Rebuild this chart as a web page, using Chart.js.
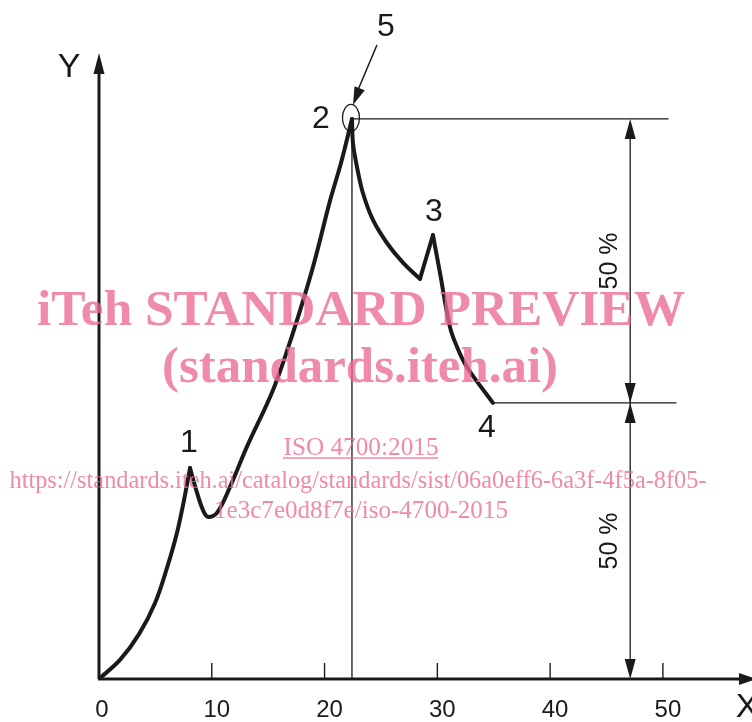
<!DOCTYPE html>
<html>
<head>
<meta charset="utf-8">
<script src="https://cdn.jsdelivr.net/npm/chart.js@4.4.1/dist/chart.umd.min.js"></script>
<style>
  html, body { margin: 0; padding: 0; background: #fff; }
</style>
</head>
<body>
<canvas id="chart" width="752" height="722"></canvas>
<script>
// ===========================
// Data
// ===========================
const curveX = [0, 1.86, 3.55, 4.96, 6.03, 6.91, 7.54, 8.07, 8.69, 9.22, 9.66, 10.46, 11.61, 13.12, 15.43, 17.2,
                18.97, 20.48, 21.45, 22.43, 22.52, 22.87, 23.4, 24.29, 25.53, 26.95, 28.46, 29.61, 30.23, 31.12,
                31.74, 32.62, 34.93];
const curveY = [0, 3.4, 8.0, 13.5, 19.8, 26.0, 31.9, 37.6, 33.2, 30.1, 28.9, 29.6, 34.2, 41.4, 51.5, 61.7,
                73.4, 85.2, 91.9, 99.8, 95.5, 91.3, 86.6, 81.8, 77.7, 74.2, 71.3, 79.1, 72.4, 62.7,
                59.2, 55.6, 49.2];
// sharp corners in the curve (segments are smoothed between them)
const cuspIndex = [0, 7, 19, 26, 27, 32];
// numbered points on the curve
const markLabels = ['1', '2', '3', '4'];
const markIndex = [7, 19, 27, 32];
const xTicks = [0, 10, 20, 30, 40, 50];
const refLineEndX = [50.5, 51.2];   // right ends of the two level lines
const dimensionX = 47.1;            // x of the 50 % dimension line
const dimensionText = ['50 %', '50 %'];
const watermark = ['iTeh STANDARD PREVIEW', '(standards.iteh.ai)', 'ISO 4700:2015',
  'https://standards.iteh.ai/catalog/standards/sist/06a0eff6-6a3f-4f5a-8f05-',
  '1e3c7e0d8f7e/iso-4700-2015'];

// ===========================
// Helpers
// ===========================
function arrowHead(ctx, x, y, angle, len, w) {
  ctx.save();
  ctx.translate(x, y);
  ctx.rotate(angle);
  ctx.beginPath();
  ctx.moveTo(0, 0);
  ctx.lineTo(-len, -w / 2);
  ctx.lineTo(-len, w / 2);
  ctx.closePath();
  ctx.fill();
  ctx.restore();
}

function line(ctx, x1, y1, x2, y2, w) {
  ctx.lineWidth = w;
  ctx.beginPath();
  ctx.moveTo(x1, y1);
  ctx.lineTo(x2, y2);
  ctx.stroke();
}

function fitText(ctx, text, cx, base, width, font) {
  ctx.font = font;
  const m = ctx.measureText(text).width;
  ctx.save();
  ctx.translate(cx, base);
  ctx.scale(width / m, 1);
  ctx.textAlign = 'center';
  ctx.textBaseline = 'alphabetic';
  ctx.fillText(text, 0, 0);
  ctx.restore();
}

// segments between cusps, each smoothed on its own
const datasets = [];
for (let i = 0; i < cuspIndex.length - 1; i++) {
  const pts = [];
  for (let j = cuspIndex[i]; j <= cuspIndex[i + 1]; j++) pts.push({ x: curveX[j], y: curveY[j] });
  datasets.push({
    data: pts,
    showLine: true,
    borderColor: '#1a1a1a',
    borderWidth: 4,
    pointRadius: 0,
    tension: 0.35,
    borderCapStyle: 'round',
    borderJoinStyle: 'round'
  });
}

// ===========================
// Drawing plugin (axes, annotations)
// ===========================
const figurePlugin = {
  id: 'figure',
  beforeDatasetsDraw(chart) {
    const { ctx, scales: { x, y } } = chart;
    const X = v => x.getPixelForValue(v);
    const Y = v => y.getPixelForValue(v);
    ctx.save();
    ctx.strokeStyle = '#1a1a1a';
    ctx.fillStyle = '#1a1a1a';
    ctx.lineCap = 'butt';

    // axes
    const ox = X(0), oy = Y(0);
    line(ctx, ox, oy, ox, 70, 3);
    arrowHead(ctx, ox, 53, -Math.PI / 2, 21, 11);
    line(ctx, ox - 1, oy, 740, oy, 3);
    arrowHead(ctx, 756, oy, 0, 17, 12);

    // ticks
    xTicks.slice(1).forEach(t => line(ctx, X(t), oy, X(t), oy - 16, 1.4));

    ctx.font = '24px "Liberation Sans", Arial, sans-serif';
    ctx.textAlign = 'center';
    ctx.textBaseline = 'middle';
    xTicks.forEach(t => ctx.fillText(String(t), X(t) + (t === 0 ? 3 : 5), 710));

    ctx.font = '34px "Liberation Sans", Arial, sans-serif';
    ctx.fillText('Y', 69, 68);
    ctx.fillText('X', 747, 708);

    // peak vertical + level lines
    const pk = markIndex[1], p4 = markIndex[3];
    line(ctx, X(curveX[pk]), oy, X(curveX[pk]), Y(curveY[pk]), 1.3);
    line(ctx, X(curveX[pk]), Y(curveY[pk]), X(refLineEndX[0]), Y(curveY[pk]), 1.3);
    line(ctx, X(curveX[p4]), Y(curveY[p4]), X(refLineEndX[1]), Y(curveY[p4]), 1.3);

    // dimension line with arrows
    const dx = X(dimensionX);
    const yTop = Y(curveY[pk]), yMid = Y(curveY[p4]);
    line(ctx, dx, yTop + 4, dx, oy - 4, 1.3);
    arrowHead(ctx, dx, yTop, -Math.PI / 2, 20, 11);
    arrowHead(ctx, dx, yMid, Math.PI / 2, 20, 11);
    arrowHead(ctx, dx, yMid, -Math.PI / 2, 20, 11);
    arrowHead(ctx, dx, oy, Math.PI / 2, 20, 11);

    ctx.font = '25px "Liberation Sans", Arial, sans-serif';
    [[yTop, yMid], [yMid, oy]].forEach(([a, b], i) => {
      ctx.save();
      ctx.translate(dx - 20, (a + b) / 2);
      ctx.rotate(-Math.PI / 2);
      ctx.fillText(dimensionText[i], 0, 0);
      ctx.restore();
    });
    ctx.restore();
  },
  afterDatasetsDraw(chart) {
    const { ctx, scales: { x, y } } = chart;
    const X = v => x.getPixelForValue(v);
    const Y = v => y.getPixelForValue(v);
    ctx.save();
    ctx.strokeStyle = '#1a1a1a';
    ctx.fillStyle = '#1a1a1a';

    // numbered labels
    const offs = [[-1, -25], [-31, 0], [1, -23], [-6, 25]];
    ctx.font = '32px "Liberation Sans", Arial, sans-serif';
    ctx.textAlign = 'center';
    ctx.textBaseline = 'middle';
    markIndex.forEach((idx, i) => {
      ctx.fillText(markLabels[i], X(curveX[idx]) + offs[i][0], Y(curveY[idx]) + offs[i][1]);
    });

    // circle at peak 2 with pointer "5"
    const px = X(curveX[markIndex[1]]), py = Y(curveY[markIndex[1]]);
    ctx.lineWidth = 1.3;
    ctx.beginPath();
    ctx.ellipse(px - 1, py - 1, 8.5, 13.5, 0, 0, Math.PI * 2);
    ctx.stroke();
    line(ctx, px + 25, py - 74, px + 6, py - 29, 1.5);
    arrowHead(ctx, px + 1, py - 14, Math.atan2(60, -24), 18, 11);
    ctx.fillText('5', px + 34, py - 92);

    // watermark
    ctx.fillStyle = 'rgba(235,105,145,0.78)';
    fitText(ctx, watermark[0], 361, 325, 648, 'bold 50px "Liberation Serif", "Times New Roman", serif');
    fitText(ctx, watermark[1], 360, 382, 396, 'bold 50px "Liberation Serif", "Times New Roman", serif');
    fitText(ctx, watermark[2], 361, 455, 155, '26px "Liberation Serif", "Times New Roman", serif');
    fitText(ctx, watermark[3], 358, 488, 697, '26px "Liberation Serif", "Times New Roman", serif');
    fitText(ctx, watermark[4], 361, 518, 294, '26px "Liberation Serif", "Times New Roman", serif');
    ctx.strokeStyle = 'rgba(235,105,145,0.78)';
    line(ctx, 283, 458, 438, 458, 1.4);
    ctx.restore();
  }
};

// ===========================
// Chart
// ===========================
const chart = new Chart(document.getElementById('chart'), {
  type: 'scatter',
  data: { datasets },
  options: {
    responsive: false,
    animation: false,
    layout: { padding: { left: 99, right: 0, top: 0, bottom: 43 } },
    plugins: { legend: { display: false }, tooltip: { enabled: false } },
    scales: {
      x: { type: 'linear', display: false, min: 0, max: 57.9 },
      y: { type: 'linear', display: false, min: 0, max: 121 }
    }
  },
  plugins: [figurePlugin]
});
</script>
</body>
</html>
